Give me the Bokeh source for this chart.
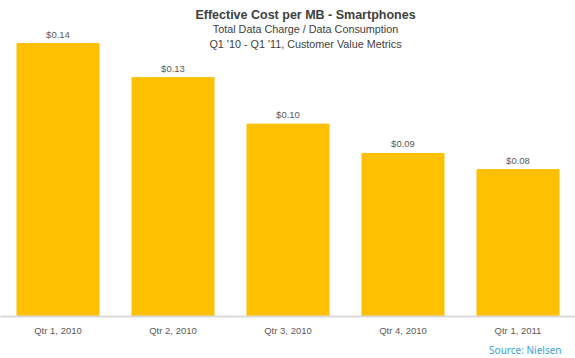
from bokeh.plotting import figure
from bokeh.models import ColumnDataSource, Range1d, FactorRange, Label, Title
from bokeh.core.properties import value
from bokeh.embed import file_html
from bokeh.resources import INLINE

quarters = ["Qtr 1, 2010", "Qtr 2, 2010", "Qtr 3, 2010", "Qtr 4, 2010", "Qtr 1, 2011"]
cost_per_mb = [0.144, 0.126, 0.1015, 0.086, 0.0775]
value_labels = ["$0.14", "$0.13", "$0.10", "$0.09", "$0.08"]

title_text = "Effective Cost per MB - Smartphones"
subtitle_1 = "Total Data Charge / Data Consumption"
subtitle_2 = "Q1 '10 - Q1 '11, Customer Value Metrics"
source_text = "Source: Nielsen"

FONT = "Liberation Sans"

src = ColumnDataSource(dict(q=quarters, v=cost_per_mb, lab=value_labels))

p = figure(x_range=FactorRange(*quarters), y_range=Range1d(0, 0.1667),
           width=575, height=358, output_backend="svg", toolbar_location=None,
           y_axis_location=None, min_border_left=0, min_border_right=0,
           min_border_top=0, min_border_bottom=0)
p.outline_line_color = None
p.xgrid.grid_line_color = None
p.ygrid.grid_line_color = None
p.background_fill_color = "white"
p.border_fill_color = "white"

p.vbar(x="q", top="v", width=0.713, source=src, fill_color="#FFC000",
       line_color="#FFC000")

p.text(x="q", y="v", text="lab", source=src, text_align="center",
       text_baseline="bottom", y_offset=-4, text_font=value(FONT),
       text_font_size="9.5px", text_color="#595959")

ax = p.xaxis[0]
ax.axis_line_color = "#D9D9D9"
ax.axis_line_width = 2
ax.major_tick_line_color = None
ax.minor_tick_line_color = None
ax.major_tick_out = 0
ax.major_tick_in = 0
ax.major_label_text_font = FONT
ax.major_label_text_font_size = "9.5px"
ax.major_label_text_color = "#595959"
ax.major_label_standoff = 8

p.add_layout(Title(text=source_text, align="right", offset=14, standoff=4,
                   text_font="Noto Sans", text_font_size="10px",
                   text_font_style="normal", text_color="#3BA0D8"), "below")

p.add_layout(Label(x=305, y=302, x_units="screen", y_units="screen", text=title_text,
                   text_align="center", text_baseline="middle", text_font=FONT,
                   text_font_size="12.5px", text_font_style="bold", text_color="#404040"))
p.add_layout(Label(x=305, y=288, x_units="screen", y_units="screen", text=subtitle_1,
                   text_align="center", text_baseline="middle", text_font=FONT,
                   text_font_size="10.8px", text_color="#404040"))
p.add_layout(Label(x=305, y=273, x_units="screen", y_units="screen", text=subtitle_2,
                   text_align="center", text_baseline="middle", text_font=FONT,
                   text_font_size="10.8px", text_color="#404040"))

open("out.html", "w").write(file_html(p, INLINE))
